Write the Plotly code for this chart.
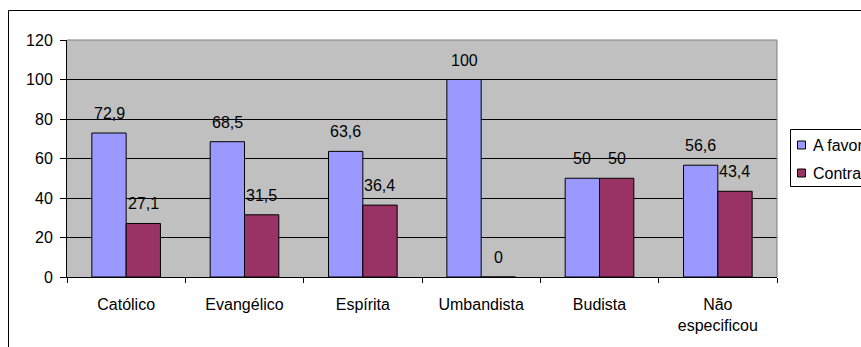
import plotly.graph_objects as go

categories = ["Católico", "Evangélico", "Espírita", "Umbandista", "Budista", "Não<br>especificou"]
a_favor = [72.9, 68.5, 63.6, 100, 50, 56.6]
contra = [27.1, 31.5, 36.4, 0, 50, 43.4]
series_names = ["A favor", "Contra"]
series_colors = ["#9999FF", "#993366"]
y_ticks = [0, 20, 40, 60, 80, 100, 120]

def fmt(v):
    return ("%g" % v).replace(".", ",")

FONT = dict(family="Liberation Sans", size=16, color="black")

L, R, T, B = 67, 84, 40, 70
W, H = 861, 347
pw = W - L - R
ph = H - T - B

def px_x(x):
    return (x - L) / pw

def px_y(y):
    return (H - B - y) / ph

BARGAP = 0.42
cat_px = pw / len(categories)
bar_px = cat_px * (1 - BARGAP) / 2

fig = go.Figure()
annotations = []
for i, (name, vals, col) in enumerate(zip(series_names, [a_favor, contra], series_colors)):
    fig.add_trace(go.Bar(
        name=name, x=categories, y=vals,
        marker=dict(color=col, line=dict(color="black", width=1)),
        showlegend=False,
    ))
    shift = (i - 0.5) * bar_px
    for c, v in zip(categories, vals):
        annotations.append(dict(
            x=c, y=v, xref="x", yref="y", text=fmt(v), showarrow=False,
            xanchor="center", yanchor="bottom", xshift=shift, yshift=9,
            font=FONT,
        ))

# manual legend (cut off at the right edge, like the reference)
shapes = [
    dict(type="line", xref="paper", yref="paper", x0=0, x1=1, y0=1, y1=1,
         line=dict(color="#808080", width=1), layer="above"),
    dict(type="line", xref="paper", yref="paper", x0=1, x1=1, y0=0, y1=1,
         line=dict(color="#808080", width=1), layer="above"),
    dict(type="rect", xref="paper", yref="paper",
         x0=px_x(8.5), x1=px_x(880), y0=px_y(10.5), y1=px_y(400),
         line=dict(color="black", width=1), fillcolor="rgba(0,0,0,0)", layer="above"),
    dict(type="rect", xref="paper", yref="paper",
         x0=px_x(790.5), x1=px_x(900), y0=px_y(129.5), y1=px_y(186.5),
         line=dict(color="black", width=1), fillcolor="white", layer="above"),
]
legend_y = [145, 173]
for name, col, ly in zip(series_names, series_colors, legend_y):
    shapes.append(dict(
        type="rect", xref="paper", yref="paper",
        x0=px_x(797.5), x1=px_x(805.5), y0=px_y(ly - 4), y1=px_y(ly + 4),
        line=dict(color="black", width=1), fillcolor=col, layer="above",
    ))
    annotations.append(dict(
        x=px_x(811), y=px_y(ly), xref="paper", yref="paper", text=name,
        showarrow=False, xanchor="left", yanchor="middle", font=FONT,
    ))

fig.update_layout(
    width=W, height=H,
    margin=dict(l=L, r=R, t=T, b=B, pad=0),
    paper_bgcolor="white", plot_bgcolor="#C0C0C0",
    font=FONT,
    barmode="group", bargap=BARGAP, bargroupgap=0,
    showlegend=False,
    xaxis=dict(
        showline=True, linecolor="black", linewidth=1,
        ticks="outside", tickson="boundaries", ticklen=5, tickcolor="black",
        showgrid=False, tickfont=FONT, ticklabelstandoff=13,
    ),
    yaxis=dict(
        range=[0, 120], tickvals=y_ticks, showline=True, linecolor="black",
        linewidth=1, ticks="outside", ticklen=6, tickcolor="black",
        showgrid=True, gridcolor="black", gridwidth=1, zeroline=False,
        tickfont=FONT, ticklabelstandoff=4,
    ),
    shapes=shapes,
    annotations=annotations,
)

fig.write_html("out.html")
